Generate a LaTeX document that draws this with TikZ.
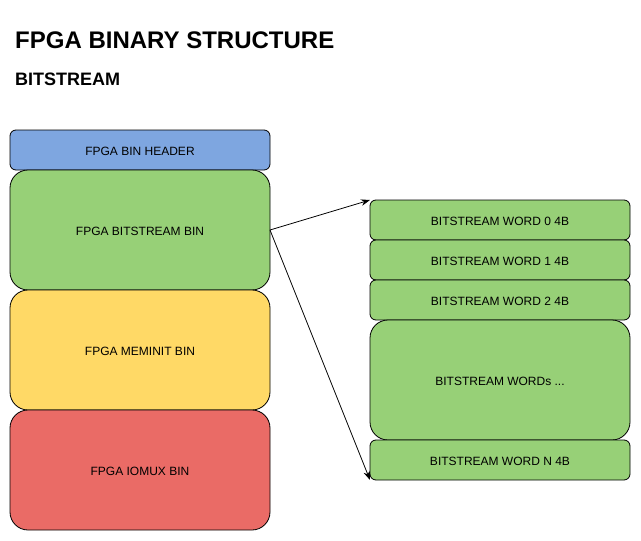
\documentclass[tikz,border=0pt]{standalone}
\usepackage{fontspec}
\setmainfont{Liberation Sans}
\usetikzlibrary{arrows.meta}
\definecolor{cblue}{HTML}{7EA6E0}
\definecolor{cgreen}{HTML}{97D077}
\definecolor{cyellow}{HTML}{FFD966}
\definecolor{cred}{HTML}{EA6B66}
\begin{document}
\begin{tikzpicture}[x=1pt,y=-1pt,
  blk/.style={draw=black, line width=0.8pt},
  lbl/.style={font=\fontsize{12}{14}\selectfont},
  conn/.style={-{Stealth[length=9pt,width=6.5pt]}, line width=0.8pt}]
\useasboundingbox (0,0) rectangle (641,541);
\node[anchor=base west, font=\bfseries\fontsize{24}{28}\selectfont, inner sep=0] (title) at (15,48) {FPGA BINARY STRUCTURE};
\node[anchor=base west, font=\bfseries\fontsize{18}{22}\selectfont, inner sep=0] (sub) at (15,85) {BITSTREAM};
% left column
\draw[blk, fill=cblue, rounded corners=6pt] (10,130) rectangle (270,170);
\node[lbl] (hdr) at (140,151) {FPGA BIN HEADER};
\draw[blk, fill=cgreen, rounded corners=18pt] (10,170) rectangle (270,290);
\node[lbl] (bs) at (140,231) {FPGA BITSTREAM BIN};
\draw[blk, fill=cyellow, rounded corners=18pt] (10,290) rectangle (270,410);
\node[lbl] (mem) at (140,351) {FPGA MEMINIT BIN};
\draw[blk, fill=cred, rounded corners=18pt] (10,410) rectangle (270,530);
\node[lbl] (io) at (140,471) {FPGA IOMUX BIN};
% right column
\draw[blk, fill=cgreen, rounded corners=6pt] (370,200) rectangle (630,240);
\node[lbl] (w0) at (500,221) {BITSTREAM WORD 0 4B};
\draw[blk, fill=cgreen, rounded corners=6pt] (370,240) rectangle (630,280);
\node[lbl] (w1) at (500,261) {BITSTREAM WORD 1 4B};
\draw[blk, fill=cgreen, rounded corners=6pt] (370,280) rectangle (630,320);
\node[lbl] (w2) at (500,301) {BITSTREAM WORD 2 4B};
\draw[blk, fill=cgreen, rounded corners=18pt] (370,320) rectangle (630,440);
\node[lbl] (wd) at (500,381) {BITSTREAM WORDs ...};
\draw[blk, fill=cgreen, rounded corners=6pt] (370,440) rectangle (630,480);
\node[lbl] (wn) at (500,461) {BITSTREAM WORD N 4B};
% connectors
\coordinate (src) at (270,230);
\coordinate (t0) at (370,200);
\coordinate (tn) at (370,480);
\draw[conn] (src) -- (t0);
\draw[conn] (src) -- (tn);
\end{tikzpicture}
\end{document}
